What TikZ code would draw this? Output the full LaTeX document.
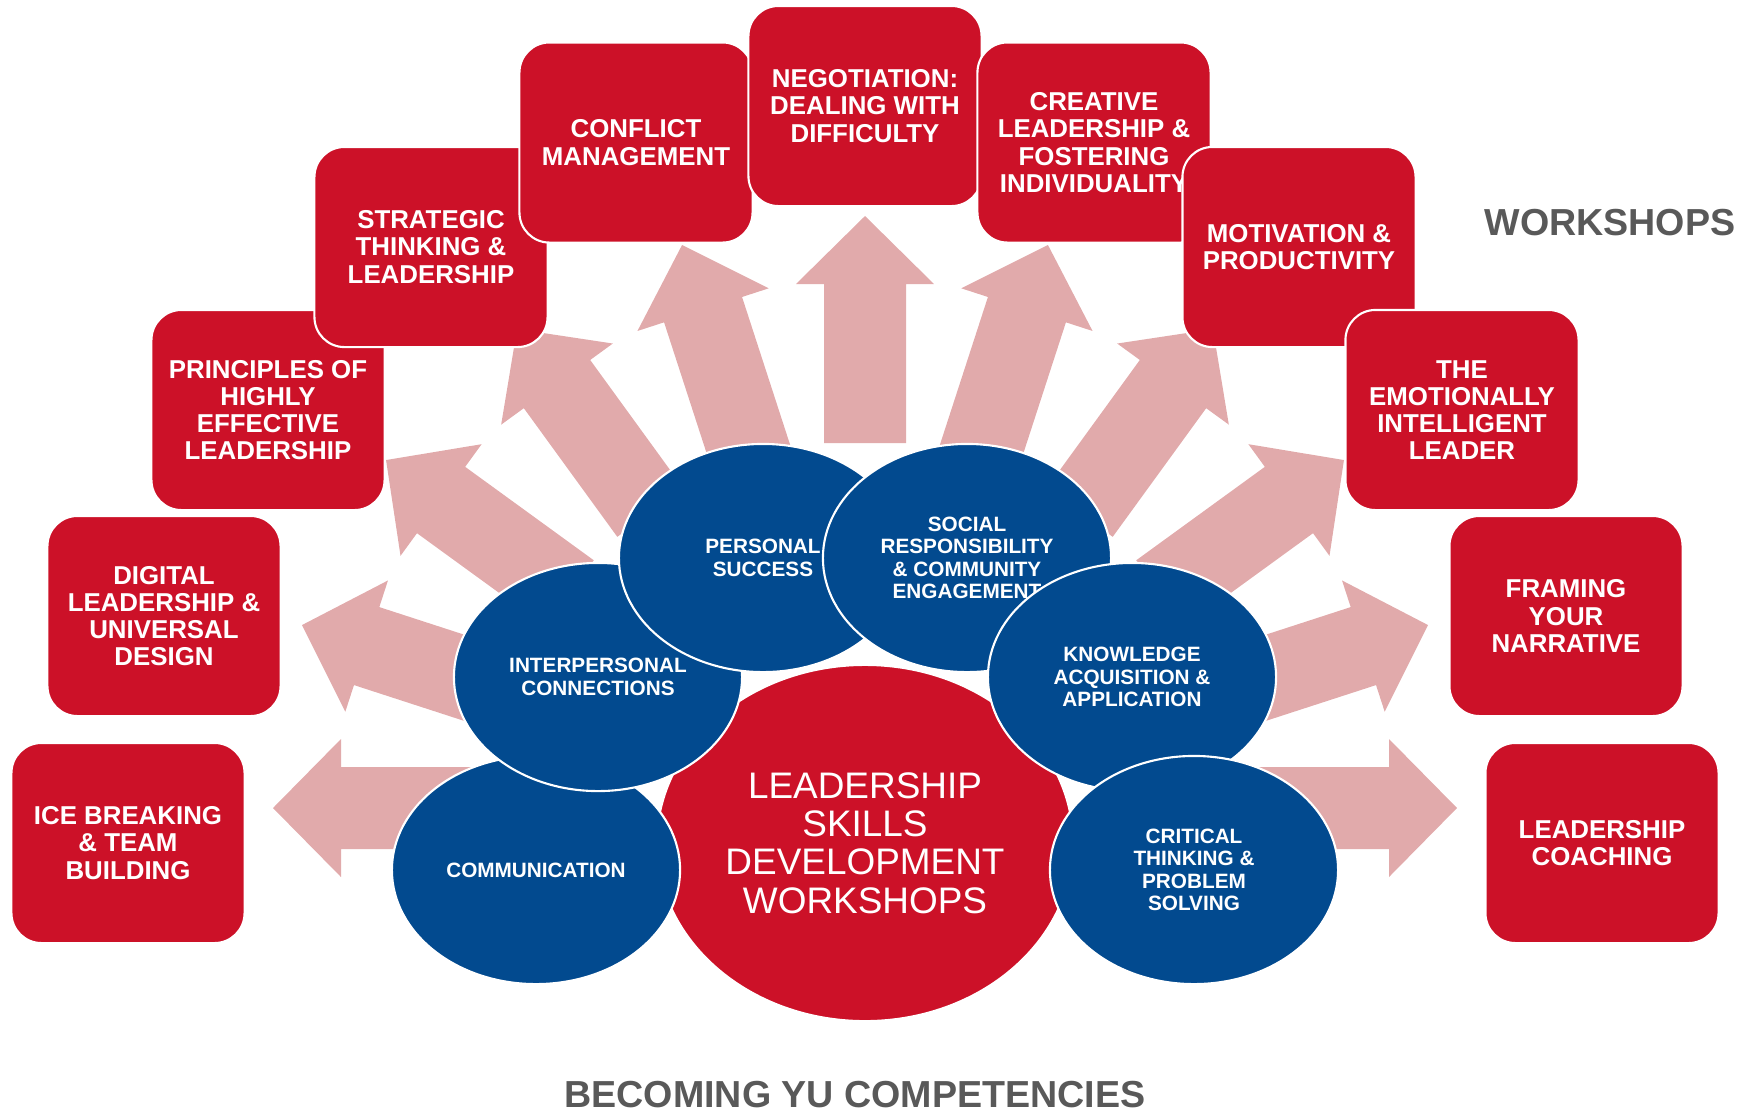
\documentclass[tikz,border=0pt]{standalone}
\usepackage{fontspec}
\setmainfont{Liberation Sans}
\usetikzlibrary{shapes.geometric,calc}
\definecolor{yured}{HTML}{CC1128}
\definecolor{yublue}{HTML}{024A8F}
\definecolor{arrowpink}{HTML}{E1AAAB}
\definecolor{labelgray}{HTML}{595959}

\begin{document}
\begin{tikzpicture}[x=0.01cm,y=-0.01cm,
  workshop/.style={rectangle, draw=white, line width=0.6pt, fill=yured,
    rounded corners=0.3cm, minimum width=2.33cm, minimum height=2cm,
    inner sep=0pt, align=center, text=white,
    font=\bfseries\fontsize{7.35}{7.75}\selectfont},
  competency/.style={ellipse, draw=white, line width=0.6pt, fill=yublue,
    minimum width=2.88cm, minimum height=2.28cm, inner sep=0pt,
    align=center, text=white, font=\bfseries\fontsize{5.9}{6.35}\selectfont},
  hubnode/.style={ellipse, draw=white, line width=0.6pt, fill=yured,
    minimum width=4.16cm, minimum height=3.56cm, inner sep=0pt,
    align=center, text=white, font=\fontsize{10.5}{10.9}\selectfont},
  heading/.style={text=labelgray, font=\bfseries\fontsize{10.7}{12}\selectfont,
    anchor=base, inner sep=0pt},
]
\useasboundingbox (0,0) rectangle (1754,1111);

% radiating block arrows, every 18 degrees around the hub point
\coordinate (c) at (865,808);
\foreach \a in {180,198,...,360}{
  \fill[arrowpink]
    ($(c)+(\a:365)+(\a+90:41)$) -- ($(c)+(\a:524)+(\a+90:41)$) --
    ($(c)+(\a:524)+(\a+90:69)$) -- ($(c)+(\a:592)$) --
    ($(c)+(\a:524)+(\a-90:69)$) -- ($(c)+(\a:524)+(\a-90:41)$) --
    ($(c)+(\a:365)+(\a-90:41)$) -- cycle;
}

% workshop boxes, left to right
\node[workshop] (ice)  at (128,843)  {ICE BREAKING\\\& TEAM\\BUILDING};
\node[workshop] (dig)  at (164,616)  {DIGITAL\\LEADERSHIP \&\\UNIVERSAL\\DESIGN};
\node[workshop] (prin) at (268,410)  {PRINCIPLES OF\\HIGHLY\\EFFECTIVE\\LEADERSHIP};
\node[workshop] (strat) at (431,247) {STRATEGIC\\THINKING \&\\LEADERSHIP};
\node[workshop] (conf) at (636,142.5) {CONFLICT\\MANAGEMENT};
\node[workshop] (nego) at (865,106)  {NEGOTIATION:\\DEALING WITH\\DIFFICULTY};
\node[workshop] (crea) at (1094,142.5) {CREATIVE\\LEADERSHIP \&\\FOSTERING\\INDIVIDUALITY};
\node[workshop] (moti) at (1299,247) {MOTIVATION \&\\PRODUCTIVITY};
\node[workshop] (emo)  at (1462,410) {THE\\EMOTIONALLY\\INTELLIGENT\\LEADER};
\node[workshop] (fram) at (1566,616) {FRAMING\\YOUR\\NARRATIVE};
\node[workshop] (coach) at (1602,843) {LEADERSHIP\\COACHING};

% central hub and competency ellipses
\node[hubnode] (hub) at (865,843) {LEADERSHIP\\SKILLS\\DEVELOPMENT\\WORKSHOPS};
\node[competency] (comm)  at (536,870)  {COMMUNICATION};
\node[competency] (inter) at (598,677)  {INTERPERSONAL\\CONNECTIONS};
\node[competency] (pers)  at (763,558)  {PERSONAL\\SUCCESS};
\node[competency] (soc)   at (967,558)  {SOCIAL\\RESPONSIBILITY\\\& COMMUNITY\\ENGAGEMENT};
\node[competency] (know)  at (1132,677) {KNOWLEDGE\\ACQUISITION \&\\APPLICATION};
\node[competency] (crit)  at (1194,870) {CRITICAL\\THINKING \&\\PROBLEM\\SOLVING};

% titles
\node[heading] (wtitle) at (1610,235) {WORKSHOPS};
\node[heading] (ctitle) at (855,1107) {BECOMING YU COMPETENCIES};
\end{tikzpicture}
\end{document}
